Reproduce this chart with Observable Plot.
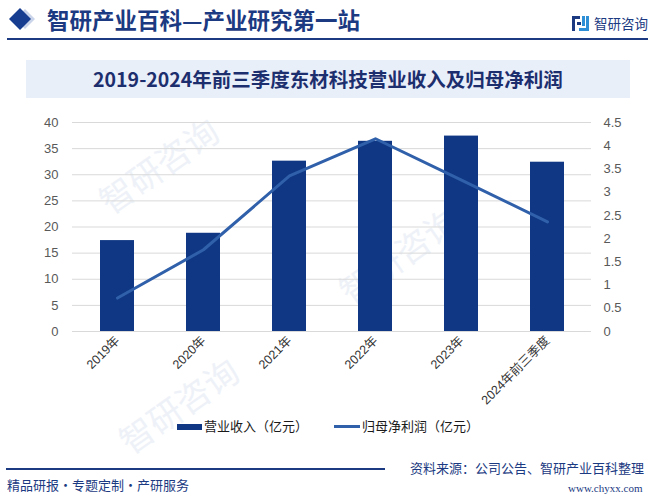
<!DOCTYPE html>
<html>
<head>
<meta charset="utf-8">
<script src="https://cdn.jsdelivr.net/npm/d3@7"></script>
<script src="https://cdn.jsdelivr.net/npm/@observablehq/plot@0.6"></script>
<style>
  html, body { margin: 0; padding: 0; background: #fff; }
  #page { position: relative; width: 660px; height: 501px; overflow: hidden; background: #fff;
    font-family: "Liberation Sans", "Noto Sans CJK SC", sans-serif; }
  .abs { position: absolute; white-space: nowrap; }
  .wm { position: absolute; color: #eef2f8; font-family: "Noto Sans CJK SC"; font-size: 34px; transform: rotate(-35deg); white-space: nowrap; }
</style>
</head>
<body>
<div id="page">
  <div class="wm" style="left:90px;top:140px;">智研咨询</div>
  <div class="wm" style="left:110px;top:380px;">智研咨询</div>
  <div class="wm" style="left:330px;top:230px;">智研咨询</div>

  <!-- header -->
  <svg class="abs" style="left:0;top:0;" width="60" height="40">
    <polygon points="25,9 35,19 25,29 15,19" fill="#c9d3ea"/>
    <polygon points="20,8 31,19 20,30 9,19" fill="#163d8f"/>
  </svg>
  <div class="abs" style="left:47px;top:4px;font-family:'Noto Sans CJK SC';font-weight:bold;font-size:22.5px;color:#1b3a82;line-height:30px;">智研产业百科—产业研究第一站</div>
  <svg class="abs" style="left:572px;top:16px;" width="18" height="16">
    <rect x="0" y="0" width="8" height="3" fill="#1b3a82"/>
    <rect x="0" y="0" width="3" height="15" fill="#1b3a82"/>
    <rect x="5" y="6" width="4" height="3" fill="#1b3a82"/>
    <rect x="10" y="0" width="3" height="10" fill="#2f8fd6"/>
    <rect x="14" y="0" width="3" height="15" fill="#2f8fd6"/>
    <rect x="7" y="12" width="10" height="3" fill="#2f8fd6"/>
  </svg>
  <div class="abs" style="left:594px;top:13px;font-family:'Noto Sans CJK SC';font-size:13.5px;color:#1b3a82;line-height:20px;">智研咨询</div>
  <div class="abs" style="left:7px;top:38px;width:641px;height:2px;background:#1b3a82;"></div>

  <!-- chart title -->
  <div class="abs" style="left:26px;top:60px;width:604px;height:38px;background:#e9eff9;"></div>
  <div class="abs" id="title" style="left:26px;top:60px;width:604px;height:38px;line-height:38px;text-align:center;font-family:'Noto Sans CJK SC';font-weight:bold;font-size:19.5px;color:#1c2e6e;"></div>

  <div id="chart" class="abs" style="left:0;top:100px;"></div>

  <!-- legend -->
  <div class="abs" style="left:177px;top:424px;width:25px;height:6px;background:#0f3783;"></div>
  <div class="abs" style="left:204px;top:417px;font-family:'Noto Sans CJK SC';font-size:13px;color:#1a1a1a;line-height:18px;" id="leg1"></div>
  <div class="abs" style="left:334px;top:425px;width:26px;height:3px;background:#3060aa;"></div>
  <div class="abs" style="left:362px;top:417px;font-family:'Noto Sans CJK SC';font-size:13px;color:#1a1a1a;line-height:18px;" id="leg2"></div>

  <!-- footer -->
  <div class="abs" style="left:6px;top:468px;width:379px;height:2px;background:#1b3a82;"></div>
  <div class="abs" style="left:7px;top:476px;font-family:'Noto Sans CJK SC';font-size:13px;color:#1b3a82;line-height:18px;">精品研报・专题定制・产研服务</div>
  <div class="abs" style="left:410px;top:459px;font-family:'Noto Sans CJK SC';font-size:13px;color:#1b3a82;line-height:18px;">资料来源：公司公告、智研产业百科整理</div>
  <div class="abs" style="left:568px;top:481px;font-family:'Liberation Serif';font-size:11px;color:#1b3a82;line-height:14px;">www.chyxx.com</div>
</div>
<script>
const titleText = "2019-2024年前三季度东材科技营业收入及归母净利润";
const years = ["2019年", "2020年", "2021年", "2022年", "2023年", "2024年前三季度"];
const revenue = [17.4, 18.8, 32.6, 36.4, 37.4, 32.4];      // 营业收入（亿元）
const netProfit = [0.72, 1.76, 3.35, 4.15, 3.26, 2.36];    // 归母净利润（亿元）
const leftTicks = [0, 5, 10, 15, 20, 25, 30, 35, 40];
const rightTicks = [0, 0.5, 1, 1.5, 2, 2.5, 3, 3.5, 4, 4.5];
const seriesNames = ["营业收入（亿元）", "归母净利润（亿元）"];

document.getElementById("title").textContent = titleText;
document.getElementById("leg1").textContent = seriesNames[0];
document.getElementById("leg2").textContent = seriesNames[1];

const leftMax = 40, rightMax = 4.5;
const k = leftMax / rightMax;
const rows = years.map((y, i) => ({year: y, revenue: revenue[i], profit: netProfit[i], profitScaled: netProfit[i] * k}));

const chart = Plot.plot({
  width: 660,
  height: 320,
  marginTop: 22,
  marginBottom: 89,
  marginLeft: 72,
  marginRight: 69,
  style: {fontFamily: "'Liberation Sans', 'Noto Sans CJK SC', sans-serif", background: "transparent"},
  x: {domain: years, paddingInner: 0.61, paddingOuter: 0.305},
  y: {domain: [0, leftMax]},
  marks: [
    Plot.gridY(leftTicks, {stroke: "#d9d9d9", strokeOpacity: 1, strokeWidth: 1}),
    Plot.barY(rows, {x: "year", y: "revenue", fill: "#0f3783"}),
    Plot.line(rows, {x: "year", y: "profitScaled", stroke: "#3060aa", strokeWidth: 3}),
    Plot.axisY(leftTicks, {anchor: "left", tickSize: 0, tickPadding: 14, label: null, fontSize: 13, fill: "#595959"}),
    Plot.axisY(rightTicks.map(v => v * k), {anchor: "right", tickSize: 0, tickPadding: 12, label: null, fontSize: 13, fill: "#595959",
      tickFormat: d => String(+(d / k).toFixed(2))}),
    Plot.axisX({tickRotate: -45, tickSize: 0, tickPadding: 7, label: null, fontSize: 12.5, fill: "#333"})
  ]
});
document.getElementById("chart").appendChild(chart);
</script>
</body>
</html>
